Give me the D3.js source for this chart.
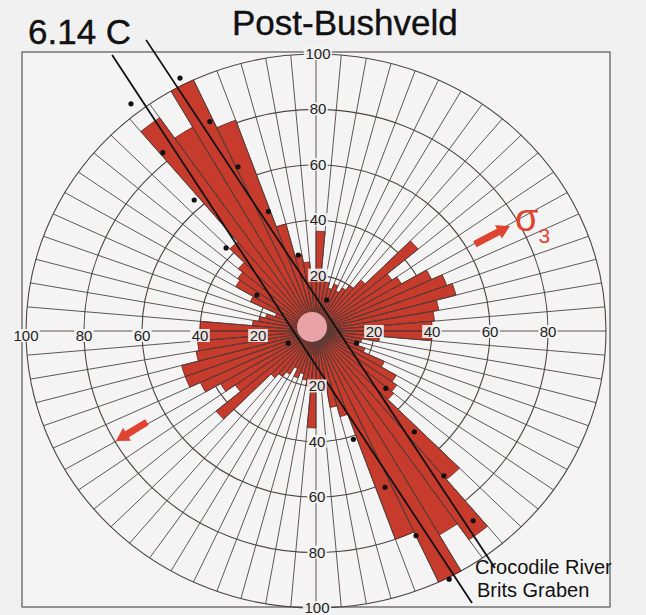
<!DOCTYPE html>
<html>
<head>
<meta charset="utf-8">
<script src="https://cdn.jsdelivr.net/npm/d3@7"></script>
<style>
  html, body { margin: 0; padding: 0; background: #f1f1f1; }
  svg { display: block; font-family: "Liberation Sans", Arial, sans-serif; }
</style>
</head>
<body>
<svg id="chart" width="646" height="615"></svg>
<script>
// Rose diagram of fracture azimuths, 5-degree bins measured clockwise from north.
const binWidth = 5;
const binStarts = d3.range(0, 360, binWidth);
const counts = [
  36, 20, 18, 16, 18, 16, 18, 20, 24, 46, 32, 34,   //   0 -  55
  44, 48, 50, 43, 41, 40, 40, 22, 16, 15, 18, 26,   //  60 - 115
  32, 34, 35, 70, 92, 85,100, 80, 32, 28, 22, 18,   // 120 - 175
  35, 20, 18, 16, 18, 15, 18, 20, 22, 45, 34, 38,   // 180 - 235
  44, 48, 48, 42, 41, 40, 40, 22, 20, 18, 15, 25,   // 240 - 295
  32, 33, 35, 42, 94, 85,100, 81, 40, 28, 25, 20    // 300 - 355
];

// Concentric scale rings and the values printed along the four main axes
const ringValues = [20, 40, 60, 80, 100];
const labelsNorth = [20, 40, 60, 80, 100];
const labelsSouth = [20, 40, 60, 80, 100];
const labelsWest  = [20, 40, 60, 80, 100];
const labelsEast  = [20, 40, 60, 80];

// Individual measurement points (east, north components in ring units)
const pointsEast  = [-46.9, -63.8, -52.8, -36.6, -26.9, -42.0, -16.4, -31.0, -6.1, -20.4, 3.7, -9.6, 14.0,
                     24.1, 33.9, 12.9, 44.1, 23.8, 54.2, 34.5, 45.9, 1.4];
const pointsNorth = [91.3, 82.0, 64.4, 75.6, 59.3, 47.3, 43.1, 30.0, 27.4, 13.0, 11.2, -4.4, -4.4,
                     -20.7, -36.4, -39.1, -52.3, -56.4, -68.5, -73.9, -89.6, -20.5];

// Structural trends drawn across the rose
const faultNames = ["Crocodile River", "Brits Graben"];
const faultStart = [[-58.6, 105.1], [-70.3, 99.6]];
const faultEnd   = [[61.7, -85.6], [53.8, -98.2]];

// Extension direction arrows (tail, head)
const arrowTail = [[54.8, 31.4], [-58.3, -32.9]];
const arrowHead = [[66.9, 37.9], [-69.0, -39.7]];

const svg = d3.select("#chart");

const x = d3.scaleLinear().domain([-100, 100]).range([26, 606]);
const y = d3.scaleLinear().domain([-100, 100]).range([608, 54]);
const cx = x(0), cy = y(0);
const rad = d => d * Math.PI / 180;
const pt = (bearing, v) => [x(v * Math.sin(rad(bearing))), y(v * Math.cos(rad(bearing)))];
const rx = v => x(v) - x(0);
const ry = v => y(0) - y(v);

const gridColor = "#4f4442";
const barFill = "#c73b2c";
const barStroke = "#5e1f16";

// Frame around the plot
svg.append("rect")
  .attr("x", 22).attr("y", 52).attr("width", 588).attr("height", 555)
  .attr("fill", "#f4f4f4").attr("stroke", "#555").attr("stroke-width", 1.2);

// Rings
svg.append("g").selectAll("ellipse").data(ringValues).join("ellipse")
  .attr("cx", cx).attr("cy", cy)
  .attr("rx", d => rx(d)).attr("ry", d => ry(d))
  .attr("fill", "none").attr("stroke", gridColor).attr("stroke-width", 1.1);

// Bars
const wedge = (a0, a1, v) => {
  const p0 = pt(a0, v), p1 = pt(a1, v);
  return `M${cx},${cy}L${p0[0]},${p0[1]}A${rx(v)},${ry(v)} 0 0 1 ${p1[0]},${p1[1]}Z`;
};
svg.append("g").selectAll("path").data(binStarts).join("path")
  .attr("d", (d, i) => wedge(d, d + binWidth, counts[i]))
  .attr("fill", barFill).attr("stroke", barStroke).attr("stroke-width", 0.8);

// Spokes every bin boundary
svg.append("g").selectAll("line").data(binStarts).join("line")
  .attr("x1", cx).attr("y1", cy)
  .attr("x2", d => pt(d, 100)[0]).attr("y2", d => pt(d, 100)[1])
  .attr("stroke", gridColor).attr("stroke-width", 0.9);

// Hub
svg.append("ellipse").attr("cx", cx - 4).attr("cy", cy - 4)
  .attr("rx", 15).attr("ry", 15).attr("fill", "#e9a2a6");

// Fault traces
svg.append("g").selectAll("line").data(faultNames).join("line")
  .attr("x1", (d, i) => x(faultStart[i][0])).attr("y1", (d, i) => y(faultStart[i][1]))
  .attr("x2", (d, i) => x(faultEnd[i][0])).attr("y2", (d, i) => y(faultEnd[i][1]))
  .attr("stroke", "#111").attr("stroke-width", 1.8);

// Measurement points
svg.append("g").selectAll("circle").data(pointsEast).join("circle")
  .attr("cx", d => x(d)).attr("cy", (d, i) => y(pointsNorth[i]))
  .attr("r", 2.6).attr("fill", "#111");

// Axis value labels with a small backing patch
const labelG = svg.append("g").attr("font-size", 15).attr("fill", "#222").attr("text-anchor", "middle");
const addLabel = (lx, ly, t) => {
  const g = labelG.append("g");
  g.append("rect").attr("x", lx - t.length * 4.4 - 1).attr("y", ly - 7)
    .attr("width", t.length * 8.8 + 2).attr("height", 13).attr("fill", "#f4f4f4").attr("opacity", 0.9);
  g.append("text").attr("x", lx).attr("y", ly + 5).text(t);
};
labelsNorth.forEach(v => addLabel(cx + 2, y(v), String(v)));
labelsSouth.forEach(v => addLabel(cx + 1, y(-v), String(v)));
labelsWest.forEach(v => addLabel(x(-v), cy + 5, String(v)));
labelsEast.forEach(v => addLabel(x(v), cy + 1, String(v)));

// Arrows
const arrowPath = (t, h) => {
  const x0 = x(t[0]), y0 = y(t[1]), x1 = x(h[0]), y1 = y(h[1]);
  const L = Math.hypot(x1 - x0, y1 - y0), ux = (x1 - x0) / L, uy = (y1 - y0) / L;
  const nx = -uy, ny = ux, sw = 3.5, hw = 7.5, hl = 13;
  const bx = x1 - ux * hl, by = y1 - uy * hl;
  const P = [
    [x0 + nx * sw, y0 + ny * sw], [bx + nx * sw, by + ny * sw], [bx + nx * hw, by + ny * hw],
    [x1, y1], [bx - nx * hw, by - ny * hw], [bx - nx * sw, by - ny * sw], [x0 - nx * sw, y0 - ny * sw]
  ];
  return "M" + P.map(p => p.join(",")).join("L") + "Z";
};
svg.append("g").selectAll("path").data(arrowTail).join("path")
  .attr("d", (d, i) => arrowPath(d, arrowHead[i]))
  .attr("fill", "#e0432f");

// Stress label
const sig = svg.append("text").attr("x", 515).attr("y", 231).attr("fill", "#e0432f");
sig.append("tspan").attr("font-size", 38).text("σ");
sig.append("tspan").attr("font-size", 21).attr("dy", 12).text("3");

// Titles
svg.append("text").attr("x", 28).attr("y", 44).attr("font-size", 35).attr("fill", "#111")
  .attr("stroke", "#111").attr("stroke-width", 0.4).text("6.14 C");
svg.append("text").attr("x", 232).attr("y", 35).attr("font-size", 35).attr("fill", "#111")
  .attr("stroke", "#111").attr("stroke-width", 0.4).text("Post-Bushveld");

// Fault names
svg.append("text").attr("x", 475).attr("y", 574).attr("font-size", 20).attr("fill", "#111").text(faultNames[0]);
svg.append("text").attr("x", 477).attr("y", 597).attr("font-size", 20).attr("fill", "#111").text(faultNames[1]);
</script>
</body>
</html>
